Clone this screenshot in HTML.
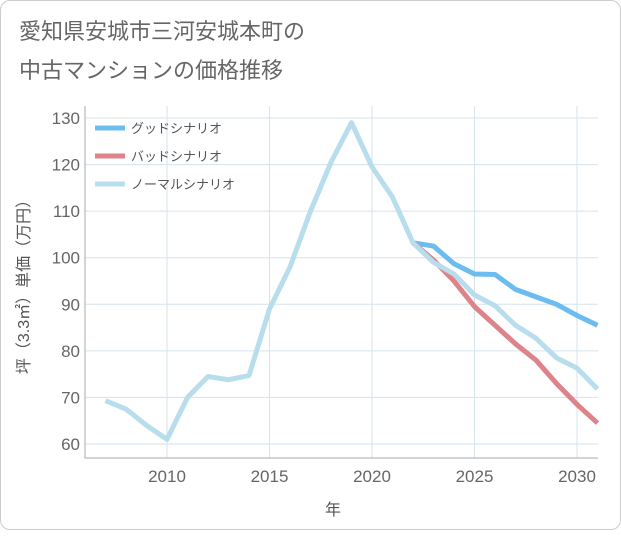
<!DOCTYPE html>
<html><head><meta charset="utf-8"><style>
body{margin:0;background:#fff;font-family:"Liberation Sans","Noto Sans CJK JP",sans-serif;}
#card{position:absolute;left:0;top:0;width:619px;height:528px;border:1px solid #ccc;border-radius:10px;background:#fff;}
</style></head><body>
<div id="card">
<svg width="621" height="530">
<text x="18" y="38" font-size="22" fill="#666" font-family="Liberation Sans,Noto Sans CJK JP,sans-serif">愛知県安城市三河安城本町の</text>
<text x="18" y="77" font-size="22" fill="#666" font-family="Liberation Sans,Noto Sans CJK JP,sans-serif">中古マンションの価格推移</text>
<g id="grid"></g><g id="lines"></g><g id="legend"></g>
<text x="332" y="514" font-size="16" fill="#555" text-anchor="middle" font-family="Liberation Sans,Noto Sans CJK JP,sans-serif">年</text>
<text transform="translate(28,282) rotate(-90)" font-size="16" fill="#555" text-anchor="middle" font-family="Liberation Sans,Noto Sans CJK JP,sans-serif">坪（3.3㎡）単価（万円）</text>
</svg></div>
<script>
const years=[2007,2008,2009,2010,2011,2012,2013,2014,2015,2016,2017,2018,2019,2020,2021,2022,2023,2024,2025,2026,2027,2028,2029,2030,2031];
const normal=[69.3,67.5,64,61,70,74.5,73.8,74.7,89,98,110,120.5,129,119.5,113,103.2,99,96.5,92,89.7,85.5,82.7,78.5,76.3,71.8];
const goodYears=[2022,2023,2024,2025,2026,2027,2028,2029,2030,2031];
const good=[103.2,102.5,98.7,96.5,96.4,93.2,91.6,90,87.6,85.5];
const bad=[103.2,99.5,95,89.5,85.5,81.5,78,73,68.5,64.5];
const yTicks=[60,70,80,90,100,110,120,130];
const xTicks=[2010,2015,2020,2025,2030];
const X0=84,X1=597,Y0=105,Y1=457;
const x=v=>166+(v-2010)*20.5;
const y=v=>443-(v-60)*4.657;
const NS="http://www.w3.org/2000/svg";
function mk(t,a,p){const e=document.createElementNS(NS,t);for(const k in a)e.setAttribute(k,a[k]);p.appendChild(e);return e;}
const g=document.getElementById('grid');
yTicks.forEach(v=>{
 const l=mk('line',{x1:X0,x2:X1,y1:y(v),y2:y(v),stroke:'#d5e3ec','stroke-width':1},g);
 
 
 const t=mk('text',{x:79,y:y(v)+6,'font-size':17,fill:'#666','text-anchor':'end'},g);t.textContent=v;
 
 
});
xTicks.forEach(v=>{
 const l=mk('line',{x1:x(v),x2:x(v),y1:Y0,y2:Y1,stroke:'#d5e3ec','stroke-width':1},g);
 
 
 const t=mk('text',{x:x(v),y:481,'font-size':17,fill:'#666','text-anchor':'middle'},g);t.textContent=v;
 
 
});
const ax=mk('path',{d:`M${X0} ${Y0}V${Y1}H${X1}`,fill:'none',stroke:'#aaa'},g);


const L=document.getElementById('lines');
function series(xs,vs,c,name){
 const p=mk('polyline',{points:xs.map((yr,i)=>x(yr)+','+y(vs[i])).join(' '),fill:'none',stroke:c,'stroke-width':5,'stroke-linejoin':'round'},L);
 
 
}
series(goodYears,good,'#6dbcef','good-scenario-line');
series(goodYears,bad,'#dc8489','bad-scenario-line');
series(years,normal,'#b8dded','normal-scenario-line');
const lg=document.getElementById('legend');
[['グッドシナリオ','#6dbcef'],['バッドシナリオ','#dc8489'],['ノーマルシナリオ','#b8dded']].forEach((d,i)=>{
 const yy=127+i*28;
 const l=mk('line',{x1:94,x2:124,y1:yy,y2:yy,stroke:d[1],'stroke-width':5},lg);
 
 
 const t=mk('text',{x:130,y:yy+5,'font-size':13,fill:'#555'},lg);t.textContent=d[0];
 
 
});
</script>
</body></html>
